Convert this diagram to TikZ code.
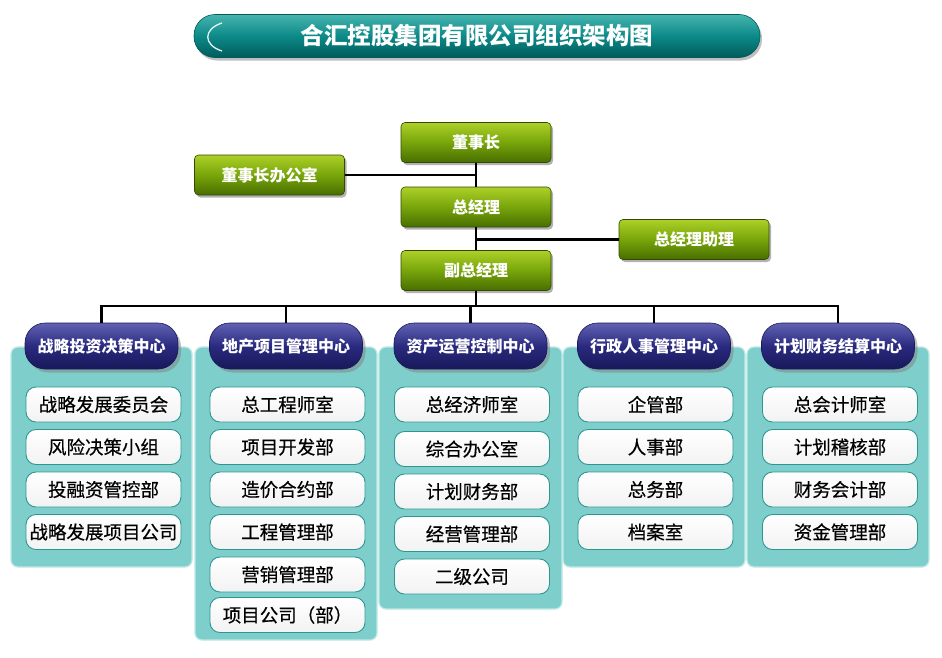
\documentclass[tikz,border=0pt]{standalone}
\usepackage{fontspec}
\newfontfamily\cjk{Noto Sans CJK SC}
\newfontfamily\cjkm{Noto Sans CJK SC}[FakeBold=0.4]
\usetikzlibrary{shadows,shadings}
\definecolor{grT}{RGB}{172,208,40}
\definecolor{grM}{RGB}{120,165,10}
\definecolor{grB}{RGB}{72,110,0}
\definecolor{grD}{RGB}{50,75,0}
\definecolor{nvT}{RGB}{98,98,180}
\definecolor{nvM}{RGB}{42,42,128}
\definecolor{nvB}{RGB}{24,24,90}
\definecolor{tlT}{RGB}{70,180,175}
\definecolor{tlM}{RGB}{12,138,136}
\definecolor{tlB}{RGB}{0,92,92}
\definecolor{panel}{RGB}{126,207,204}
\definecolor{panelE}{RGB}{190,232,230}
\definecolor{itemE}{RGB}{45,150,148}
\tikzset{
  conn/.style={line width=2.2pt, black},
  gbox/.style={rectangle, rounded corners=4pt, minimum width=150pt, minimum height=40pt,
    inner sep=0pt, top color=grT, bottom color=grB, middle color=grM, draw=grD, line width=0.6pt,
    text=white, font=\cjk\bfseries\fontsize{16}{18}\selectfont,
    drop shadow={shadow xshift=2pt, shadow yshift=-2.5pt, opacity=0.6}},
  hbox/.style={rectangle, rounded corners=20pt, minimum width=153pt, minimum height=46pt,
    inner sep=0pt, top color=nvT, bottom color=nvB, middle color=nvM, draw=nvB, line width=0.6pt,
    text=white, font=\cjk\bfseries\fontsize{16}{18}\selectfont,
    drop shadow={shadow xshift=3pt, shadow yshift=-3.5pt, opacity=0.5}},
  pbox/.style={rectangle, rounded corners=7pt, fill=panel, draw=panelE, line width=1.2pt, inner sep=0pt},
  ibox/.style={rectangle, rounded corners=10pt, minimum width=155pt, minimum height=35pt,
    inner sep=0pt, top color=white, bottom color=gray!10, draw=itemE, line width=0.9pt,
    text=black, font=\cjkm\fontsize{18.5}{20}\selectfont},
  tbox/.style={rectangle, rounded corners=21pt, minimum width=566pt, minimum height=43pt,
    inner sep=0pt, top color=tlT, bottom color=tlB, middle color=tlM, draw=tlB, line width=0.6pt,
    text=white, font=\cjk\bfseries\fontsize{23.5}{26}\selectfont,
    drop shadow={shadow xshift=2pt, shadow yshift=-3pt, opacity=0.5}}
}
\begin{document}
\begin{tikzpicture}[x=1pt,y=-1pt]
\useasboundingbox[fill=white] (0,0) rectangle (942,657);
% title
\node[tbox] (title) at (477,36) {合汇控股集团有限公司组织架构图};
\draw[white!85!tlT, line width=1.3pt] (222,23) .. controls (203,29) and (203,45) .. (222,51);
% top nodes
\node[gbox] (chair) at (476,142.5) {董事长};
\node[gbox] (office) at (269.5,175) {董事长办公室};
\node[gbox] (gm) at (476,207) {总经理};
\node[gbox] (asst) at (694,239.5) {总经理助理};
\node[gbox] (vp) at (476,270.5) {副总经理};
\coordinate (bus) at (476,306);
% panels
\node[pbox, minimum width=181pt, minimum height=220pt] (p1) at (101.5,457) {};
\node[pbox, minimum width=182pt, minimum height=293pt] (p2) at (286,493.5) {};
\node[pbox, minimum width=183pt, minimum height=262pt] (p3) at (470.5,478) {};
\node[pbox, minimum width=182pt, minimum height=220pt] (p4) at (654,457) {};
\node[pbox, minimum width=182pt, minimum height=220pt] (p5) at (838,457) {};
% headers
\node[hbox] (h1) at (101.5,346) {战略投资决策中心};
\node[hbox] (h2) at (286,346) {地产项目管理中心};
\node[hbox] (h3) at (470.5,346) {资产运营控制中心};
\node[hbox] (h4) at (654,346) {行政人事管理中心};
\node[hbox] (h5) at (838,346) {计划财务结算中心};
% connectors
\draw[conn] (chair.south) -- (gm.north);
\draw[conn] (office.east) -- (office.east -| chair.south);
\draw[conn] (gm.south) -- (vp.north);
\draw[conn] (asst.west) -- (asst.west -| gm.south);
\draw[conn] (vp.south) -- (bus);
\draw[conn] (h1.north) -- (h1.north |- bus) -- (h5.north |- bus) -- (h5.north);
\draw[conn] (h2.north) -- (h2.north |- bus);
\draw[conn] (h3.north) -- (h3.north |- bus);
\draw[conn] (h4.north) -- (h4.north |- bus);
% panel 1
\node[ibox] (a1) at (103.5,404.5) {战略发展委员会};
\node[ibox] (a2) at (103.5,447) {风险决策小组};
\node[ibox] (a3) at (103.5,489.5) {投融资管控部};
\node[ibox] (a4) at (103.5,532) {战略发展项目公司};
% panel 2
\node[ibox] (b1) at (287.5,404.5) {总工程师室};
\node[ibox] (b2) at (287.5,447) {项目开发部};
\node[ibox] (b3) at (287.5,489.5) {造价合约部};
\node[ibox] (b4) at (287.5,532) {工程管理部};
\node[ibox] (b5) at (287.5,574.5) {营销管理部};
\node[ibox] (b6) at (287.5,615) {项目公司（部）};
% panel 3
\node[ibox] (c1) at (472,404.5) {总经济师室};
\node[ibox] (c2) at (472,449) {综合办公室};
\node[ibox] (c3) at (472,491.5) {计划财务部};
\node[ibox] (c4) at (472,534) {经营管理部};
\node[ibox] (c5) at (472,576.5) {二级公司};
% panel 4
\node[ibox] (d1) at (655.5,404.5) {企管部};
\node[ibox] (d2) at (655.5,447) {人事部};
\node[ibox] (d3) at (655.5,489.5) {总务部};
\node[ibox] (d4) at (655.5,532) {档案室};
% panel 5
\node[ibox] (e1) at (840,404.5) {总会计师室};
\node[ibox] (e2) at (840,447) {计划稽核部};
\node[ibox] (e3) at (840,489.5) {财务会计部};
\node[ibox] (e4) at (840,532) {资金管理部};
\end{tikzpicture}
\end{document}
